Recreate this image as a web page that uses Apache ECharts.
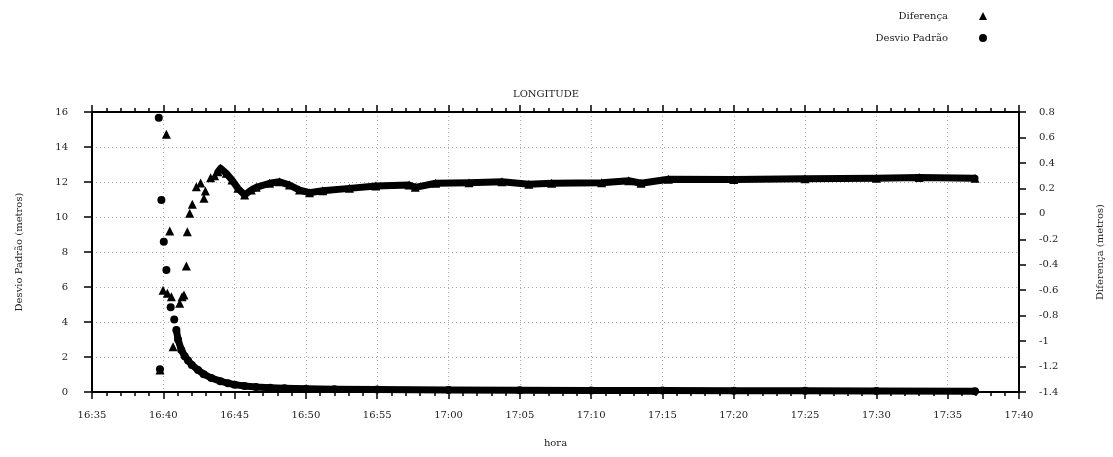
<!DOCTYPE html>
<html>
<head>
<meta charset="utf-8">
<script src="https://cdn.jsdelivr.net/npm/echarts@6/dist/echarts.min.js"></script>
<style>
  html, body { margin: 0; padding: 0; background: #fff; }
  #chart { width: 1113px; height: 457px; }
</style>
</head>
<body>
<div id="chart"></div>
<script>
// Desvio Padrão (left axis, metros) - first scattered epochs
const dpTimesSparse = ['16:39:41', '16:39:46', '16:39:52', '16:40:02', '16:40:13', '16:40:31', '16:40:46'];
const dpSparse = [15.67, 1.3, 10.97, 8.59, 6.97, 4.84, 4.15];
// Desvio Padrão - dense part where the points merge into a band
const dpTimesBand = ['16:40:55', '16:41:02', '16:41:16', '16:41:30', '16:41:44', '16:42:00', '16:42:26',
  '16:42:50', '16:43:22', '16:44:00', '16:44:32', '16:45:00', '16:45:42', '16:46:30', '16:47:30',
  '16:48:30', '16:50:00', '16:52:00', '16:55:00', '17:00:00', '17:05:00', '17:10:00', '17:15:00',
  '17:20:00', '17:25:00', '17:30:00', '17:36:55'];
const dpBand = [3.54, 3.0, 2.4, 2.05, 1.8, 1.55, 1.26, 1.02, 0.8, 0.62, 0.5, 0.42, 0.34, 0.28, 0.24,
  0.21, 0.18, 0.16, 0.14, 0.12, 0.1, 0.09, 0.08, 0.07, 0.07, 0.06, 0.05];

// Diferença (right axis, metros)
const difTimesSparse = ['16:39:46', '16:39:59', '16:40:13', '16:40:17', '16:40:27', '16:40:34', '16:40:41',
  '16:41:09', '16:41:19', '16:41:27', '16:41:37', '16:41:41', '16:41:51', '16:42:02', '16:42:19',
  '16:42:37', '16:42:51', '16:42:57', '16:43:19', '16:43:36'];
const difSparse = [-1.227, -0.6, 0.625, -0.625, -0.135, -0.651, -1.044, -0.703, -0.651, -0.638, -0.41,
  -0.14, 0.004, 0.075, 0.213, 0.242, 0.122, 0.18, 0.284, 0.3];
const difTimesBand = ['16:43:50', '16:44:01', '16:44:25', '16:44:49', '16:45:14', '16:45:42', '16:46:10',
  '16:46:31', '16:47:27', '16:48:09', '16:48:51', '16:49:33', '16:50:15', '16:51:11', '16:53:03',
  '16:54:54', '16:57:14', '16:57:40', '16:59:06', '17:01:26', '17:03:45', '17:05:38', '17:07:14',
  '17:10:44', '17:12:38', '17:13:30', '17:15:25', '17:20:00', '17:25:00', '17:30:00', '17:33:00', '17:36:55'];
const difBand = [0.33, 0.358, 0.318, 0.266, 0.2, 0.148, 0.187, 0.208, 0.24, 0.252, 0.226, 0.187, 0.166,
  0.182, 0.2, 0.219, 0.226, 0.208, 0.24, 0.245, 0.252, 0.232, 0.24, 0.245, 0.26, 0.24, 0.271, 0.27,
  0.275, 0.28, 0.285, 0.28];

const startTime = '16:35:00';
const endTime = '17:40:00';

// minutes since 16:35
function toMin(s) {
  const p = s.split(':').map(Number);
  const p0 = startTime.split(':').map(Number);
  return (p[0] * 60 + p[1] + (p[2] || 0) / 60) - (p0[0] * 60 + p0[1]);
}
function fmtMin(v) {
  const base = 16 * 60 + 35 + Math.round(v);
  const h = Math.floor(base / 60);
  const m = base % 60;
  return h + ':' + (m < 10 ? '0' + m : m);
}
const pairs = (ts, vs) => ts.map((t, i) => [toMin(t), vs[i]]);

const font = 'DejaVu Serif';
const txt = { fontFamily: font, fontSize: 10, color: '#222' };
const dotted = { color: '#aaa', type: [1, 3], width: 1 };

const myChart = echarts.init(document.getElementById('chart'));

const xCommon = {
  type: 'value',
  min: 0,
  max: toMin(endTime),
  interval: 5,
  axisLine: { onZero: false, lineStyle: { color: '#000', width: 2 } },
  axisTick: { length: 7, lineStyle: { color: '#000', width: 1.5 } },
  minorTick: { show: true, splitNumber: 5, length: 4, lineStyle: { color: '#000', width: 1.5 } },
};

myChart.setOption({
  animation: false,
  backgroundColor: '#fff',
  title: {
    text: 'LONGITUDE',
    left: 541,
    top: 84,
    textAlign: 'center',
    textStyle: { fontFamily: font, fontSize: 10, fontWeight: 'normal', color: '#222' },
  },
  legend: {
    orient: 'vertical',
    right: 121,
    top: 6,
    align: 'right',
    itemWidth: 8,
    itemHeight: 8,
    itemGap: 12,
    selectedMode: false,
    textStyle: Object.assign({}, txt, { padding: [0, 26, 0, 0] }),
    data: [
      { name: 'Diferença', icon: 'triangle' },
      { name: 'Desvio Padrão', icon: 'circle' },
    ],
  },
  grid: { left: 92, right: 92, top: 112, bottom: 65 },
  xAxis: [
    Object.assign({}, xCommon, {
      position: 'bottom',
      name: 'hora',
      nameLocation: 'middle',
      nameGap: 46,
      nameTextStyle: txt,
      axisLabel: Object.assign({}, txt, { margin: 18, formatter: fmtMin }),
      splitLine: { show: true, lineStyle: dotted },
    }),
    Object.assign({}, xCommon, {
      position: 'top',
      axisLabel: { show: false },
      splitLine: { show: false },
    }),
  ],
  yAxis: [
    {
      type: 'value',
      position: 'left',
      min: 0,
      max: 16,
      interval: 2,
      name: 'Desvio Padrão (metros)',
      nameLocation: 'middle',
      nameRotate: 90,
      nameGap: 68,
      nameTextStyle: txt,
      axisLine: { show: true, onZero: false, lineStyle: { color: '#000', width: 2 } },
      axisTick: { show: true, length: 8, lineStyle: { color: '#000', width: 1.5 } },
      axisLabel: Object.assign({}, txt, { margin: 24 }),
      splitLine: { show: true, lineStyle: dotted },
    },
    {
      type: 'value',
      position: 'right',
      min: -1.4,
      max: 0.8,
      interval: 0.2,
      name: 'Diferença (metros)',
      nameLocation: 'middle',
      nameRotate: 90,
      nameGap: 76,
      nameTextStyle: txt,
      axisLine: { show: true, onZero: false, lineStyle: { color: '#000', width: 2 } },
      axisTick: { show: true, length: 7, lineStyle: { color: '#000', width: 1.5 } },
      axisLabel: Object.assign({}, txt, {
        margin: 20,
        formatter: (v) => String(Math.round(v * 10) / 10),
      }),
      splitLine: { show: false },
    },
  ],
  series: [
    {
      name: 'Diferença',
      type: 'scatter',
      yAxisIndex: 1,
      symbol: 'triangle',
      symbolSize: 9,
      itemStyle: { color: '#000', opacity: 1 },
      data: pairs(difTimesSparse, difSparse),
    },
    {
      name: 'Diferença',
      type: 'line',
      yAxisIndex: 1,
      symbol: 'triangle',
      symbolSize: 9,
      showSymbol: true,
      itemStyle: { color: '#000' },
      lineStyle: { color: '#000', width: 7, cap: 'round', join: 'round' },
      data: pairs(difTimesBand, difBand),
    },
    {
      name: 'Desvio Padrão',
      type: 'scatter',
      yAxisIndex: 0,
      symbol: 'circle',
      symbolSize: 8,
      itemStyle: { color: '#000', opacity: 1 },
      data: pairs(dpTimesSparse, dpSparse),
    },
    {
      name: 'Desvio Padrão',
      type: 'line',
      yAxisIndex: 0,
      symbol: 'circle',
      symbolSize: 8,
      showSymbol: true,
      itemStyle: { color: '#000' },
      lineStyle: { color: '#000', width: 7, cap: 'round', join: 'round' },
      data: pairs(dpTimesBand, dpBand),
    },
  ],
});
</script>
</body>
</html>
